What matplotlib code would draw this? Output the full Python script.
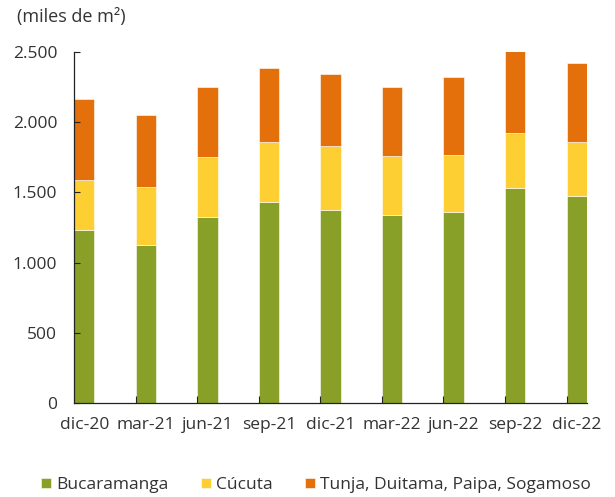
import matplotlib
matplotlib.use("Agg")
import matplotlib.pyplot as plt
import numpy as np

categories = ["dic-20", "mar-21", "jun-21", "sep-21", "dic-21", "mar-22", "jun-22", "sep-22", "dic-22"]
bucaramanga = [1233, 1126, 1323, 1434, 1377, 1341, 1361, 1534, 1477]
cucuta = [353, 415, 427, 427, 455, 420, 407, 391, 384]
tunja = [576, 512, 502, 526, 512, 491, 555, 583, 557]
series_names = ["Bucaramanga", "Cúcuta", "Tunja, Duitama, Paipa, Sogamoso"]
yticks = [0, 500, 1000, 1500, 2000, 2500]
ytick_labels = ["0", "500", "1.000", "1.500", "2.000", "2.500"]

colors = ["#88A027", "#FDCF33", "#E4700C"]
txt = "#333333"
fs = 12.5

plt.rcParams['font.family'] = ['Open Sans', 'DejaVu Sans']

fig = plt.figure(figsize=(6.15, 4.97), dpi=100)
ax = fig.add_axes([0.1203, 0.1885, 0.8342, 0.7075])

x = np.arange(len(categories))
w = 0.333
b1 = np.array(bucaramanga)
b2 = b1 + np.array(cucuta)
ax.bar(x, bucaramanga, w, color=colors[0], edgecolor="white", linewidth=0.4, label=series_names[0])
ax.bar(x, cucuta, w, bottom=b1, color=colors[1], edgecolor="white", linewidth=0.4, label=series_names[1])
ax.bar(x, tunja, w, bottom=b2, color=colors[2], edgecolor="white", linewidth=0.4, label=series_names[2])

ax.set_xlim(-w / 2, len(categories) - 1 + w / 2)
ax.set_ylim(0, 2500)
ax.set_yticks(yticks)
ax.set_yticklabels(ytick_labels)
ax.set_xticks(x)
ax.set_xticklabels(categories)
ax.set_xticks(x[1:] - w / 2, minor=True)
ax.tick_params(axis='x', which='major', length=0, pad=10, labelsize=fs, labelcolor=txt)
ax.tick_params(axis='x', which='minor', length=5, direction='in', width=0.8, color="#222222")
ax.tick_params(axis='y', length=4.5, direction='in', width=0.8, labelsize=fs, labelcolor=txt,
               color="#222222", pad=12)
for s in ["top", "right"]:
    ax.spines[s].set_visible(False)
for s in ["left", "bottom"]:
    ax.spines[s].set_color("#222222")
    ax.spines[s].set_linewidth(0.9)

fig.text(0.028, 0.966, "(miles de m²)", fontsize=13, color=txt, va="center", ha="left")

leg = fig.legend(loc="center", bbox_to_anchor=(0.514, 0.024), ncol=3, frameon=False,
                 fontsize=fs, handlelength=0.55, handleheight=0.55, handletextpad=0.3,
                 columnspacing=1.9, labelcolor=txt, borderpad=0)

fig.savefig("out.png", dpi=100)
